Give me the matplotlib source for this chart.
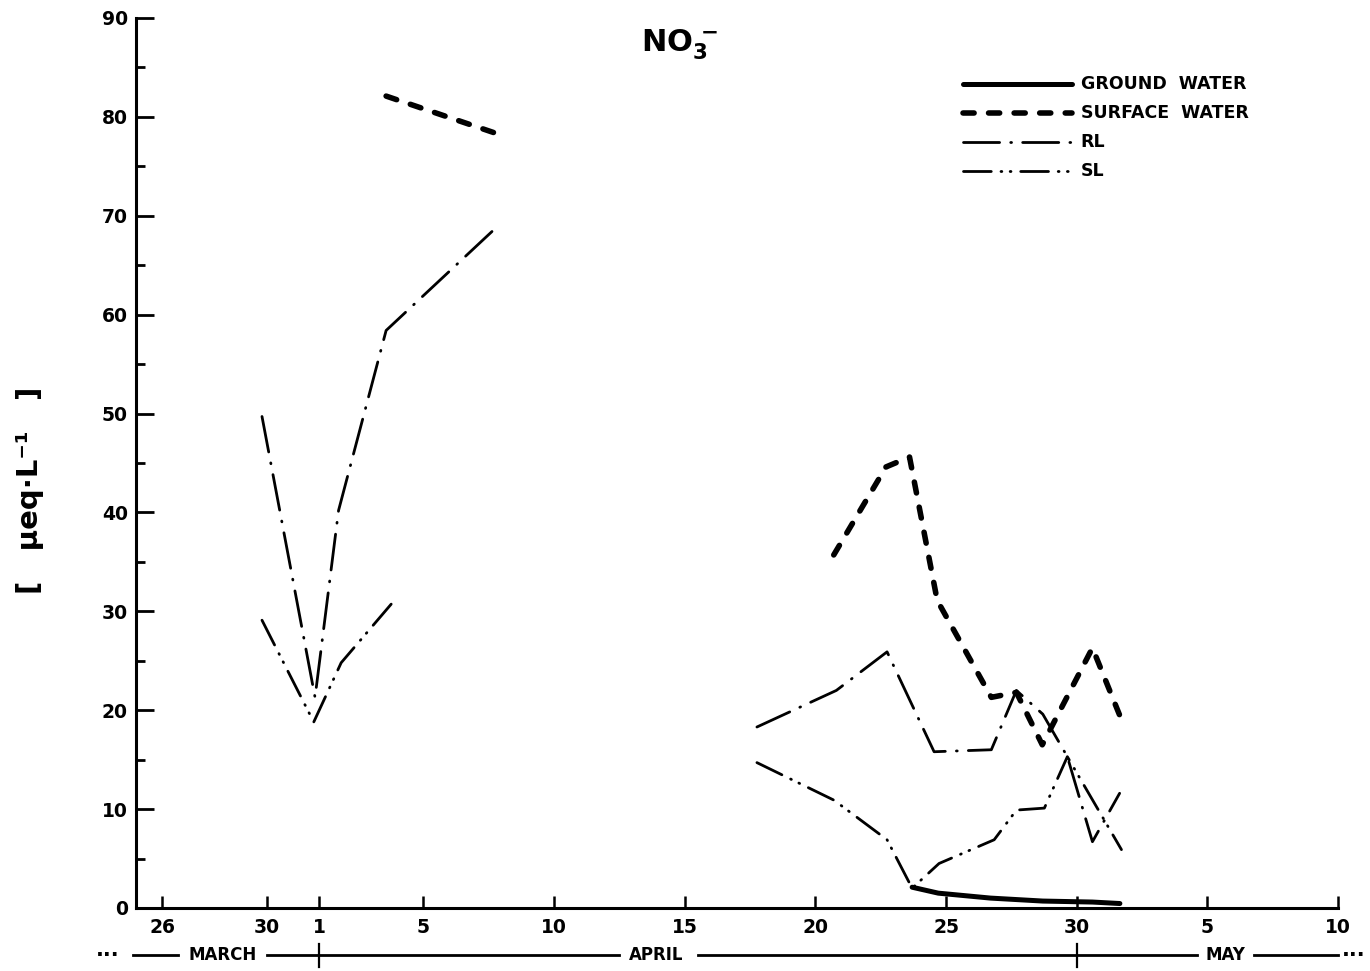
import matplotlib
matplotlib.use('Agg')
import matplotlib.pyplot as plt
from matplotlib.ticker import MultipleLocator
from matplotlib.transforms import blended_transform_factory
from matplotlib.lines import Line2D

# x = days counted from April 1 (= 0)
gw_days = [22.7, 23.7, 25.7, 27.7, 29.6, 30.65]
gw_vals = [2.1, 1.5, 1.0, 0.7, 0.6, 0.45]

sw_days_a = [2.57, 6.7]
sw_vals_a = [82.1, 78.4]
sw_days_b = [19.7, 21.7, 22.6, 23.66, 25.73, 26.69, 27.68, 29.6, 30.64]
sw_vals_b = [35.7, 44.6, 45.6, 31.1, 21.3, 21.8, 16.5, 26.3, 19.5]

rl_days_a = [-2.18, -0.15, 0.75, 2.57, 6.7]
rl_vals_a = [49.7, 21.3, 40.2, 58.4, 68.6]
rl_days_b = [16.76, 19.8, 21.74, 23.54, 25.73, 26.69, 27.7, 28.64, 29.6, 30.64]
rl_vals_b = [18.3, 22.0, 25.9, 15.8, 16.0, 22.0, 19.6, 15.3, 6.7, 11.6]

sl_days_a = [-2.18, -0.2, 0.85, 2.95]
sl_vals_a = [29.1, 18.8, 24.8, 31.3]
sl_days_b = [16.76, 19.71, 21.74, 22.7, 23.73, 25.84, 26.69, 27.76, 28.64, 30.71]
sl_vals_b = [14.7, 10.9, 6.9, 2.0, 4.5, 6.9, 9.9, 10.1, 15.3, 5.9]

tick_days = [-6, -2, 0, 4, 9, 14, 19, 24, 29, 34, 39]
tick_labels = ['26', '30', '1', '5', '10', '15', '20', '25', '30', '5', '10']

legend_labels = ['GROUND  WATER', 'SURFACE  WATER', 'RL', 'SL']

plt.rcParams['font.family'] = 'DejaVu Sans'
plt.rcParams['font.weight'] = 'bold'

fig = plt.figure(figsize=(13.7, 9.71), dpi=100)
ax = fig.add_axes([0.0993, 0.0649, 0.8774, 0.9166])

gw_style = dict(color='black', lw=3.6, solid_capstyle='round', solid_joinstyle='round')
sw_style = dict(color='black', lw=4, dashes=(2.0, 2.6), dash_capstyle='round')
rl_style = dict(color='black', lw=2, dashes=(13, 4, 0.3, 4), dash_capstyle='round')
sl_style = dict(color='black', lw=2, dashes=(10, 3.5, 0.3, 3, 0.3, 3.5), dash_capstyle='round')

ax.plot(gw_days, gw_vals, **gw_style)
ax.plot(sw_days_a, sw_vals_a, **sw_style)
ax.plot(sw_days_b, sw_vals_b, **sw_style)
ax.plot(rl_days_a, rl_vals_a, **rl_style)
ax.plot(rl_days_b, rl_vals_b, **rl_style)
ax.plot(sl_days_a, sl_vals_a, **sl_style)
ax.plot(sl_days_b, sl_vals_b, **sl_style)

ax.set_xlim(-7, 39)
ax.set_ylim(0, 90)
for s in ['top', 'right']:
    ax.spines[s].set_visible(False)
for s in ['left', 'bottom']:
    ax.spines[s].set_linewidth(2.2)

ax.set_xticks(tick_days)
ax.set_xticklabels(tick_labels)
ax.yaxis.set_major_locator(MultipleLocator(10))
ax.yaxis.set_minor_locator(MultipleLocator(5))
ax.tick_params(axis='y', which='major', direction='in', length=13, width=2, labelsize=13.5, pad=6)
ax.tick_params(axis='y', which='minor', direction='in', length=6.5, width=2)
ax.tick_params(axis='x', which='major', direction='in', length=9, width=1.8, labelsize=13.5, pad=7)

# legend keys
styles = [gw_style, sw_style, rl_style, sl_style]
rows = [0.926, 0.893, 0.861, 0.828]
for st, yy, lab in zip(styles, rows, legend_labels):
    ax.add_line(Line2D([0.688, 0.779], [yy, yy], transform=ax.transAxes, **st))
    ax.text(0.786, yy, lab, transform=ax.transAxes, fontsize=12.5, va='center', ha='left')

ax.text(0.4526, 0.970, r'$\mathbf{NO_3^{\,-}}$', transform=ax.transAxes,
        fontsize=22, ha='center', va='center')

fig.text(0.022, 0.495, '[   µeq·L⁻¹   ]', rotation=90, fontsize=21,
         ha='center', va='center')

# month row under the axis
tr = blended_transform_factory(ax.transData, ax.transAxes)
ym = -0.0528
for x0, x1 in [(-7.1, -5.4), (-2.0, 11.5), (14.5, 33.6), (35.8, 39.0)]:
    ax.plot([x0, x1], [ym, ym], color='black', lw=2, transform=tr, clip_on=False)
for xc in [0, 29]:
    ax.plot([xc, xc], [ym - 0.013, ym + 0.012], color='black', lw=1.6, transform=tr, clip_on=False)
for xl, lab in [(-3.7, 'MARCH'), (12.9, 'APRIL'), (34.7, 'MAY')]:
    ax.text(xl, ym, lab, transform=tr, fontsize=12, ha='center', va='center')
ax.text(-8.1, ym, '···', transform=tr, fontsize=15, ha='center', va='center')
ax.text(39.6, ym, '···', transform=tr, fontsize=15, ha='center', va='center')

fig.savefig('out.png', dpi=100)
